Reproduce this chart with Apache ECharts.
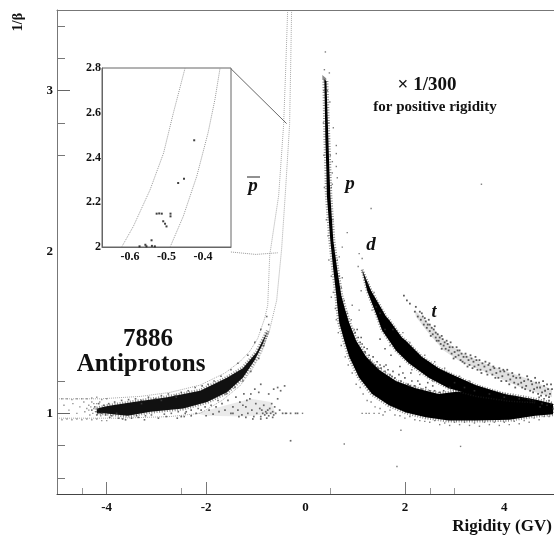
<!DOCTYPE html>
<html><head><meta charset="utf-8">
<style>html,body{margin:0;padding:0;background:#fff}#c{width:554px;height:535px}</style>
<script src="https://cdn.jsdelivr.net/npm/echarts@6/dist/echarts.min.js"></script>
</head><body><div id="c"></div>
<script>
const xTickLabels=[-4,-2,0,2,4];
const xMajorTicks=[-4,-2,2];
const xMinorTicks=[-4.5,-2.5,0.5,2.5,3];
const yTickLabels=[1,2,3];
const yMajorTicks=[1,3];
const yMinorTicks=[0.6,0.8,1.2,2.6,2.8,3.2,3.4];
const insetXLabels=[-0.6,-0.5,-0.4];
const insetYLabels=[2,2.2,2.4,2.6,2.8];

const protonBand=[[.38,3.07],[.42,3.06],[.44,2.88],[.46,2.70],[.48,2.51],[.50,2.35],[.56,2.07],[.64,1.89],[.72,1.73],[.80,1.64],[.88,1.56],[1.02,1.45],[1.22,1.35],[1.48,1.27],[1.82,1.20],[2.22,1.155],[2.68,1.12],[2.95,1.13],[3.3,1.14],[3.68,1.13],[4.18,1.11],[4.62,1.085],[4.98,1.06],[4.98,.995],[4.62,.985],[4.1,.96],[3.42,.955],[2.88,.955],[2.42,.975],[2.02,1.005],[1.68,1.05],[1.34,1.12],[1.08,1.22],[.88,1.35],[.78,1.45],[.68,1.56],[.65,1.64],[.62,1.73],[.56,1.89],[.50,2.07],[.43,2.35],[.42,2.51],[.40,2.70],[.39,2.88]];
const deuteronBand=[[1.14,1.89],[1.32,1.76],[1.62,1.60],[1.68,1.58],[1.94,1.47],[2.02,1.45],[2.34,1.35],[2.68,1.28],[2.88,1.25],[3.42,1.175],[4.1,1.11],[4.62,1.07],[4.1,1.08],[3.42,1.11],[2.88,1.155],[2.48,1.22],[2.08,1.31],[1.82,1.39],[1.54,1.515],[1.44,1.60],[1.24,1.76]];
const antiBand=[[-4.2,1.03],[-3.98,1.045],[-3.46,1.07],[-2.78,1.10],[-2.12,1.14],[-1.58,1.22],[-1.26,1.28],[-.98,1.38],[-.78,1.50],[-.76,1.51],[-.86,1.43],[-1.02,1.33],[-1.26,1.22],[-1.58,1.13],[-1.98,1.07],[-2.46,1.03],[-3.12,1.01],[-3.58,.985],[-4.06,1.0],[-4.2,1.0]];
const tritonBand=[[2.2,1.64],[2.5,1.55],[2.8,1.45],[3.12,1.38],[3.52,1.32],[3.96,1.27],[4.42,1.22],[4.96,1.15],[4.96,1.1],[4.42,1.15],[3.96,1.21],[3.52,1.27],[3.12,1.32],[2.78,1.39],[2.44,1.51],[2.22,1.6]];
const clumpBand=[[-2.2,1.0],[-1.6,1.05],[-1.1,1.09],[-.7,1.07],[-.6,1.0],[-1.2,.98],[-2.0,.985]];

const outerCurve=[[-4.96,1.09],[-4.12,1.09],[-3.32,1.105],[-2.72,1.13],[-2.12,1.175],[-1.62,1.25],[-1.32,1.32],[-1.12,1.385],[-.96,1.465],[-.82,1.59],[-.76,1.67],[-.72,1.98],[-.54,2.35],[-.44,2.79],[-.4,3.12],[-.36,3.49]];
const innerCurve=[[-4.96,.97],[-3.72,.97],[-2.72,.98],[-2.12,1.0],[-1.68,1.08],[-1.32,1.17],[-1.08,1.27],[-.88,1.38],[-.72,1.52],[-.58,1.70],[-.48,2.02],[-.4,2.39],[-.32,2.79],[-.3,3.12],[-.28,3.49]];
const zoomLineTop=[[-1.5,3.136],[-.38,2.796]];
const zoomLineBottom=[[-1.5,2.0],[-1.0,1.985],[-.56,1.995]];

const tritonPoints=[[1.98,1.73],[2.04,1.70],[2.1,1.68],[2.2,1.63],[2.22,1.66],[2.26,1.6],[2.3,1.63],[2.32,1.58],[2.36,1.6],[2.38,1.55],[2.42,1.57],[2.44,1.53],[2.46,1.55],[2.5,1.51],[2.5,1.55],[2.54,1.53],[2.56,1.49],[2.58,1.52],[2.62,1.47],[2.62,1.5],[2.66,1.49],[2.68,1.45],[2.7,1.47],[2.72,1.43],[2.76,1.46],[2.78,1.42],[2.8,1.44],[2.82,1.4],[2.86,1.43],[2.88,1.39],[2.9,1.41],[2.94,1.37],[2.96,1.41],[3.0,1.38],[3.02,1.35],[3.06,1.39],[3.08,1.36],[3.12,1.33],[3.14,1.37],[3.18,1.35],[3.2,1.31],[3.24,1.35],[3.28,1.33],[3.3,1.3],[3.34,1.34],[3.38,1.32],[3.4,1.29],[3.44,1.33],[3.48,1.3],[3.52,1.27],[3.56,1.31],[3.6,1.29],[3.64,1.26],[3.68,1.3],[3.72,1.27],[3.76,1.24],[3.8,1.28],[3.84,1.25],[3.88,1.22],[3.92,1.26],[3.96,1.23],[4,1.26],[4.04,1.2],[4.08,1.24],[4.12,1.21],[4.16,1.25],[4.2,1.19],[4.24,1.22],[4.28,1.18],[4.32,1.22],[4.36,1.16],[4.4,1.2],[4.44,1.17],[4.48,1.21],[4.52,1.14],[4.56,1.18],[4.6,1.15],[4.64,1.19],[4.68,1.12],[4.72,1.16],[4.76,1.13],[4.8,1.17],[4.84,1.11],[4.88,1.15],[4.92,1.12],[4.96,1.15],[2.34,1.62],[2.4,1.59],[2.48,1.58],[2.52,1.48],[2.6,1.54],[2.64,1.45],[2.74,1.48],[2.74,1.4],[2.84,1.45],[2.92,1.44],[2.98,1.34],[3.04,1.41],[3.1,1.39],[3.16,1.32],[3.22,1.37],[3.26,1.29],[3.32,1.36],[3.36,1.28],[3.42,1.35],[3.46,1.27],[3.5,1.33],[3.54,1.25],[3.62,1.32],[3.66,1.24],[3.7,1.31],[3.78,1.29],[3.82,1.22],[3.9,1.28],[3.94,1.2],[3.98,1.27],[4.06,1.27],[4.1,1.18],[4.18,1.23],[4.22,1.16],[4.3,1.24],[4.34,1.19],[4.42,1.15],[4.46,1.23],[4.54,1.2],[4.58,1.13],[4.62,1.22],[4.66,1.16],[4.7,1.19],[4.74,1.11],[4.78,1.2],[4.82,1.14],[4.86,1.18],[4.9,1.1],[4.94,1.18]];
const gapPoints=[[1.0,1.5],[1.06,1.47],[1.1,1.44],[1.12,1.47],[1.18,1.41],[1.2,1.38],[1.24,1.4],[1.28,1.36],[1.3,1.33],[1.36,1.35],[1.4,1.3],[1.44,1.32],[1.5,1.3],[1.52,1.28],[1.58,1.29],[1.6,1.26],[1.66,1.27],[1.7,1.24],[1.76,1.26],[1.8,1.22],[1.88,1.24],[1.92,1.2],[2.0,1.22],[2.06,1.18],[2.14,1.2],[2.2,1.17],[2.3,1.18],[2.34,1.15],[2.42,1.16],[2.5,1.14],[2.6,1.14],[2.7,1.13],[1.04,1.52],[1.14,1.43],[1.34,1.31],[1.46,1.28],[1.62,1.3],[1.74,1.23],[1.96,1.25],[2.1,1.17],[2.26,1.2],[2.46,1.19],[2.56,1.17],[2.78,1.14],[2.9,1.16],[1.72,1.36],[1.6,1.4],[1.9,1.29],[2.12,1.25],[1.5,1.46],[3.0,1.19],[3.2,1.16],[3.4,1.14],[3.7,1.12],[4.0,1.1],[4.3,1.09],[4.5,1.09],[4.7,1.1],[4.8,1.09],[4.9,1.08],[4.76,1.06],[4.86,1.05],[4.94,1.06],[4.72,1.04],[4.98,1.03]];
const edgePoints=[[.40,3.24],[.38,3.13],[.48,3.11],[.49,2.93],[.56,2.77],[.62,2.66],[.62,2.61],[.54,2.56],[.62,2.53],[.54,2.49],[.64,2.46],[.54,2.42],[1.32,2.27],[.84,2.12],[.74,2.03],[.68,1.97],[.74,1.84],[.52,1.72],[.94,1.67],[1.08,1.64],[1.12,1.76],[1.08,1.99],[1.14,1.96],[1.06,1.91],[3.54,2.42],[-.38,1.0],[-.06,1.0],[.78,.81],[1.92,.895],[1.84,.67],[3.12,.795],[1.14,1.0],[1.28,1.0],[1.48,1.0],
[.37,3.0],[.44,3.0],[.36,2.8],[.47,2.8],[.37,2.6],[.5,2.6],[.38,2.4],[.52,2.4],[.42,2.2],[.55,2.2],[.45,2.1],[.58,2.0],[.47,1.95],[.64,1.95],[.52,1.85],[.68,1.85],[.56,1.75],[.72,1.78],[.6,1.65],[.78,1.7],[.62,1.58],[.84,1.62],[.66,1.5],[.92,1.58],[.72,1.42],[.98,1.52],
[.8,1.35],[.86,1.3],[.94,1.25],[1.02,1.18],[1.1,1.16],[1.16,1.12],[1.24,1.08],[1.32,1.07],[1.4,1.04],[1.5,1.03],[1.6,1.01],[1.7,1.02],[1.8,.99],[1.9,.985],[2.0,.97],[2.1,.98],[2.2,.96],[2.3,.955],[2.4,.95],[2.5,.945],[2.6,.955],[2.7,.93],[2.8,.94],[2.9,.925],[3.0,.945],[3.1,.93],[3.2,.945],[3.3,.925],[3.4,.94],[3.5,.92],[3.6,.945],[3.7,.93],[3.8,.945],[3.9,.925],[4.0,.945],[4.1,.93],[4.2,.95],[4.3,.935],[4.4,.955],[4.5,.945],[4.6,.97],[4.7,.96],[4.8,.98],[4.9,.98],[1.22,1.0],[1.38,1.0],[1.56,.99],[1.2,1.38],[1.26,1.8],[1.2,1.83],[1.38,1.75],[1.5,1.62],[1.34,1.64],[1.42,1.66],[1.6,1.52],[1.76,1.52],[1.7,1.42],[1.96,1.5],[2.1,1.44],[2.4,1.36],[2.6,1.32],[2.8,1.28],[3.1,1.23],[3.3,1.2],[2.14,1.27],[2.3,1.24],[2.56,1.2]];
const antiPoints=[[-4.3,1.02],[-4.24,1.04],[-4.2,.99],[-4.16,1.06],[-4.1,1.0],[-4.06,1.05],[-4.02,.99],[-3.96,1.06],[-3.9,.985],[-3.84,1.07],[-3.76,.97],[-3.7,1.08],[-3.62,.96],[-3.56,1.085],[-3.5,.97],[-3.42,1.09],[-3.36,.975],[-3.3,1.08],[-3.22,.985],[-3.16,1.1],[-3.1,.99],[-3.02,1.09],[-2.96,.97],[-2.9,1.11],[-2.84,.995],[-2.76,1.12],[-2.7,1.0],[-2.62,1.11],[-2.56,1.01],[-2.5,1.13],[-2.42,1.0],[-2.36,1.14],[-2.3,1.02],[-2.22,1.16],[-2.16,1.03],[-2.08,1.17],[-2.02,1.04],[-1.96,1.18],[-1.9,1.05],[-1.84,1.2],[-1.76,1.08],[-1.7,1.23],[-1.6,1.12],[-1.5,1.27],[-1.42,1.16],[-1.36,1.31],[-1.26,1.2],[-1.16,1.36],[-1.1,1.26],[-1.02,1.44],[-.94,1.34],[-.9,1.52],[-.84,1.42],[-.78,1.6],[-.74,1.55],[-3.94,.975],[-3.8,1.0],[-3.68,.965],[-3.4,.985],[-3.24,.96],[-2.8,.98],[-2.58,.97],[-2.44,.98],[-3.3,1.06],[-2.9,1.08],[-2.6,1.1]];
const farLeftPoints=[[-4.9,1.09],[-4.8,1.09],[-4.7,1.085],[-4.6,1.09],[-4.5,1.09],[-4.4,1.09],[-4.3,1.095],[-4.2,1.1],[-4.1,1.085],[-4.0,1.09],[-4.9,.96],[-4.8,.965],[-4.7,.96],[-4.6,.965],[-4.5,.96],[-4.4,.965],[-4.3,.96],[-4.2,.965],[-4.1,.955],[-4,.955],[-4.86,1.05],[-4.76,1.02],[-4.68,1.06],[-4.6,1.0],[-4.54,1.04],[-4.46,1.07],[-4.44,1.01],[-4.4,1.03],[-4.36,1.05],[-4.34,.99],[-4.3,1.07],[-4.28,1.0],[-4.26,1.03],[-4.22,1.01],[-4.2,1.06],[-4.18,1.03],[-4.14,1.07],[-4.12,.985],[-4.36,1.02],[-4.32,1.04],[-4.16,1.0],[-4.26,1.06]];
const clumpPoints=[[-2.5,.98],[-2.4,1.01],[-2.3,.985],[-2.2,1.0],[-2.1,1.02],[-2.0,.985],[-1.94,1.02],[-1.86,.995],[-1.8,1.04],[-1.74,1.01],[-1.68,1.06],[-1.62,1.02],[-1.56,1.08],[-1.5,1.0],[-1.46,1.04],[-1.4,1.1],[-1.36,1.02],[-1.32,1.07],[-1.28,.99],[-1.24,1.12],[-1.2,1.04],[-1.16,1.0],[-1.12,1.09],[-1.08,1.02],[-1.04,.98],[-1.0,1.06],[-.98,1.0],[-.94,1.13],[-.92,1.03],[-.9,.98],[-.88,1.02],[-.86,1.0],[-.84,1.05],[-.82,.99],[-.8,1.01],[-.78,1.0],[-.76,1.02],[-.74,.985],[-.72,1.03],[-.7,1.0],[-.68,1.06],[-.66,1.01],[-.64,.99],[-.62,1.04],[-.6,1.0],[-.56,1.09],[-.52,1.02],[-.5,1.14],[-.46,1.0],[-.42,1.17],[-1.26,1.05],[-1.18,1.08],[-1.1,1.12],[-1.02,1.15],[-.9,1.18],[-.74,1.12],[-.64,1.15],[-.56,1.16],[-.4,1.0],[-.3,1.0],[-.2,1.0],[-.16,1.0],[-1.46,1.0],[-1.34,.98],[-1.2,.975],[-1.06,.965],[-.9,.965],[-.78,.97],[-.66,.975],[-.3,.83]];
const insetPoints=[[-.424,2.477],[-.452,2.305],[-.468,2.286],[-.527,2.149],[-.513,2.149],[-.52,2.15],[-.489,2.149],[-.489,2.137],[-.509,2.115],[-.504,2.104],[-.5,2.092],[-.541,2.03],[-.558,2.01],[-.555,2.003],[-.532,2.003],[-.574,2.003],[-.54,2.005]];
const insetOuterCurve=[[-.623,2.0],[-.591,2.092],[-.545,2.256],[-.508,2.42],[-.481,2.6],[-.449,2.8]];
const insetInnerCurve=[[-.49,2.0],[-.454,2.137],[-.417,2.316],[-.386,2.51],[-.367,2.66],[-.353,2.8]];

const SERIF='"Liberation Serif","DejaVu Serif",serif';
const poly=(name,data,color,halo)=>({name,type:'custom',xAxisIndex:0,yAxisIndex:0,data,silent:true,z:3,clip:true,
  renderItem:(p,api)=>{if(p.dataIndex!==0)return null;const pts=data.map(d=>api.coord(d));
    return {type:'group',children:[
      ...(halo?[{type:'polygon',shape:{points:pts},style:{fill:'none',stroke:'rgba(40,40,40,.55)',lineWidth:halo,lineDash:[1,1.6]}}]:[]),
      {type:'polygon',shape:{points:pts},style:{fill:color}}]};}});
const dots=(name,data,color,size,op)=>({name,type:'scatter',xAxisIndex:0,yAxisIndex:0,data,symbol:'rect',symbolSize:size,silent:true,z:4,itemStyle:{color,opacity:op}});
const curve=(name,data,color,x,y,w,t)=>({name,type:'line',xAxisIndex:x,yAxisIndex:y,data,symbol:'none',silent:true,z:2,lineStyle:{color,width:w,type:t}});
const hidden={show:false};
const hiddenLine={show:false,onZero:false};
const xBase={type:'value',gridIndex:0,min:-5,max:5,splitLine:hidden};
const yBase={type:'value',gridIndex:0,min:0.5,max:3.5,splitLine:hidden};
const txt=(text,x,y,size,extra)=>({type:'text',x,y,z:20,silent:true,rotation:(extra&&extra.rot)||0,style:{text,fill:'#111',font:(extra&&extra.font||'bold')+' '+size+'px '+SERIF,textAlign:(extra&&extra.align)||'center',textVerticalAlign:'middle'}});

const chart=echarts.init(document.getElementById('c'),null,{renderer:'canvas'});
chart.setOption({
  animation:false,backgroundColor:'#fff',
  grid:[{left:57,top:10,width:497,height:484},{left:102,top:68,width:129,height:179,show:true,backgroundColor:'#fff',borderColor:'#666',borderWidth:1,z:6}],
  xAxis:[
    {...xBase,position:'bottom',axisLine:{show:true,onZero:false,lineStyle:{color:'#444'}},
     axisTick:{show:true,inside:true,length:12,customValues:xMajorTicks,lineStyle:{color:'#777'}},
     axisLabel:{show:true,customValues:xTickLabels,margin:7,color:'#111',fontFamily:SERIF,fontWeight:'bold',fontSize:13}},
    {...xBase,position:'bottom',axisLine:hiddenLine,axisLabel:hidden,axisTick:{show:true,inside:true,length:6,customValues:xMinorTicks,lineStyle:{color:'#999'}}},
    {...xBase,position:'top',axisLine:{show:true,onZero:false,lineStyle:{color:'#777'}},axisLabel:hidden,axisTick:hidden},
    {type:'value',gridIndex:1,min:-.677,max:-.323,position:'bottom',z:7,splitLine:hidden,axisLine:{show:true,onZero:false,lineStyle:{color:'#666'}},axisTick:hidden,
     axisLabel:{show:true,customValues:insetXLabels,margin:4,color:'#111',fontFamily:SERIF,fontWeight:'bold',fontSize:12,formatter:v=>v.toFixed(1)}}
  ],
  yAxis:[
    {...yBase,position:'left',axisLine:{show:true,onZero:false,lineStyle:{color:'#777'}},
     axisTick:{show:true,inside:true,length:13,customValues:yMajorTicks,lineStyle:{color:'#666'}},
     axisLabel:{show:true,customValues:yTickLabels,margin:4,color:'#111',fontFamily:SERIF,fontWeight:'bold',fontSize:13}},
    {...yBase,position:'left',axisLine:hiddenLine,axisLabel:hidden,axisTick:{show:true,inside:true,length:8,customValues:yMinorTicks,lineStyle:{color:'#777'}}},
    {...yBase,position:'right',axisLine:{show:true,onZero:false,lineStyle:{color:'#ccc',type:'dotted'}},axisLabel:hidden,axisTick:hidden},
    {type:'value',gridIndex:1,min:2,max:2.8,position:'left',z:7,splitLine:hidden,axisLine:{show:true,onZero:false,lineStyle:{color:'#666'}},axisTick:hidden,
     axisLabel:{show:true,customValues:insetYLabels,margin:1,color:'#111',fontFamily:SERIF,fontWeight:'bold',fontSize:12,formatter:v=>v===2?'2':v.toFixed(1)}}
  ],
  series:[
    curve('outer',outerCurve,'#aaa',0,0,1,'dotted'),
    curve('inner',innerCurve,'#aaa',0,0,1,'dotted'),
    curve('zoomTop',zoomLineTop,'#666',0,0,1,'solid'),
    curve('zoomBottom',zoomLineBottom,'#999',0,0,1,'dotted'),
    {...poly('tritonHaze',tritonBand,'rgba(130,130,130,.25)'),z:2},
    {...poly('clumpHaze',clumpBand,'rgba(150,150,150,.2)'),z:2},
    dots('triton',tritonPoints,'#333',1.8,.8),
    dots('gap',gapPoints,'#333',1.6,.8),
    dots('edge',edgePoints,'#444',1.4,.7),
    dots('anti',antiPoints,'#444',1.6,.8),
    dots('farLeft',farLeftPoints,'#777',1.4,.8),
    dots('clump',clumpPoints,'#444',1.7,.8),
    poly('proton',protonBand,'#000',4),
    poly('deuteron',deuteronBand,'#000',3),
    poly('antiproton',antiBand,'#111',4),
    {...curve('insetOuter',insetOuterCurve,'#999',3,3,1,'dotted'),z:8},
    {...curve('insetInner',insetInnerCurve,'#999',3,3,1,'dotted'),z:8},
    {name:'insetPts',type:'scatter',xAxisIndex:3,yAxisIndex:3,data:insetPoints,symbol:'rect',symbolSize:2,silent:true,z:8,itemStyle:{color:'#111'}}
  ],
  graphic:[
    txt('1/β',18,22,14,{rot:Math.PI/2}),
    txt('Rigidity (GV)',502,527,17),
    txt('7886',148,340,25),
    txt('Antiprotons',141,365,25),
    txt('× 1/300',427,85,19),
    txt('for positive rigidity',435,107,15),
    txt('p',350,184,19,{font:'italic bold'}),
    txt('d',371,245,19,{font:'italic bold'}),
    txt('t',434,312,18,{font:'italic bold'}),
    txt('p',253,186,19,{font:'italic bold'}),
    {type:'line',z:20,silent:true,shape:{x1:247,y1:177,x2:260,y2:177},style:{stroke:'#222',lineWidth:1}}
  ]
});
</script></body></html>
